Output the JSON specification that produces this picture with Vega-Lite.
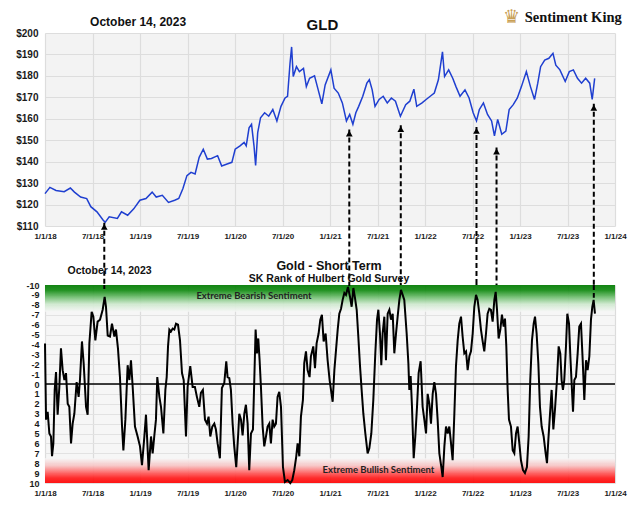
{
  "$schema": "https://vega.github.io/schema/vega-lite/v6.json",
  "background": "white",
  "padding": {"left": 15, "top": 8, "right": 5, "bottom": 5},
  "spacing": 59,
  "bounds": "flush",
  "config": {
    "view": {"stroke": null},
    "axis": {"labelFont": "Liberation Sans", "labelFontWeight": "bold", "labelColor": "#1a1a1a", "ticks": false, "tickSize": 0, "domain": false, "gridColor": "#dedede", "gridWidth": 1.2, "labelFlush": false, "labelOverlap": false, "title": null}
  },
  "datasets": {
    "price": [
      {"year": 2018.000, "price": 125.1}, {"year": 2018.052, "price": 128}, {"year": 2018.116, "price": 126.6}, {"year": 2018.202, "price": 126},
      {"year": 2018.267, "price": 127.7}, {"year": 2018.310, "price": 125.8}, {"year": 2018.375, "price": 123.5}, {"year": 2018.439, "price": 122.8},
      {"year": 2018.482, "price": 119}, {"year": 2018.547, "price": 116.6}, {"year": 2018.611, "price": 112.8}, {"year": 2018.633, "price": 111.7},
      {"year": 2018.676, "price": 114.3}, {"year": 2018.762, "price": 113.5}, {"year": 2018.805, "price": 116.6}, {"year": 2018.870, "price": 115},
      {"year": 2018.934, "price": 118}, {"year": 2018.999, "price": 122}, {"year": 2019.063, "price": 122.8}, {"year": 2019.128, "price": 125.8},
      {"year": 2019.171, "price": 123.5}, {"year": 2019.235, "price": 124.3}, {"year": 2019.300, "price": 121}, {"year": 2019.365, "price": 122},
      {"year": 2019.408, "price": 122.8}, {"year": 2019.451, "price": 127.4}, {"year": 2019.494, "price": 133.5}, {"year": 2019.537, "price": 135},
      {"year": 2019.580, "price": 134.3}, {"year": 2019.623, "price": 142}, {"year": 2019.666, "price": 145.8}, {"year": 2019.709, "price": 141.2},
      {"year": 2019.752, "price": 141.5}, {"year": 2019.817, "price": 142.8}, {"year": 2019.860, "price": 138}, {"year": 2019.924, "price": 139},
      {"year": 2019.967, "price": 139.7}, {"year": 2020.002, "price": 145.8}, {"year": 2020.053, "price": 147.4}, {"year": 2020.096, "price": 149},
      {"year": 2020.118, "price": 147.4}, {"year": 2020.148, "price": 155.8}, {"year": 2020.174, "price": 157.4}, {"year": 2020.200, "price": 147.4},
      {"year": 2020.217, "price": 138.2}, {"year": 2020.239, "price": 153.5}, {"year": 2020.269, "price": 160.5}, {"year": 2020.312, "price": 162.8},
      {"year": 2020.355, "price": 161.2}, {"year": 2020.398, "price": 164.3}, {"year": 2020.441, "price": 159}, {"year": 2020.484, "price": 165.8},
      {"year": 2020.527, "price": 169.7}, {"year": 2020.553, "price": 170.5}, {"year": 2020.579, "price": 185.8}, {"year": 2020.596, "price": 193.5},
      {"year": 2020.613, "price": 179.7}, {"year": 2020.647, "price": 184.3}, {"year": 2020.678, "price": 182}, {"year": 2020.721, "price": 183.5},
      {"year": 2020.751, "price": 175}, {"year": 2020.785, "price": 178.9}, {"year": 2020.837, "price": 180}, {"year": 2020.871, "price": 174.3},
      {"year": 2020.914, "price": 167}, {"year": 2020.949, "price": 175.8}, {"year": 2021.009, "price": 182.8}, {"year": 2021.043, "price": 174.3},
      {"year": 2021.087, "price": 172}, {"year": 2021.130, "price": 167.4}, {"year": 2021.173, "price": 159}, {"year": 2021.207, "price": 162},
      {"year": 2021.241, "price": 157.4}, {"year": 2021.272, "price": 162.8}, {"year": 2021.302, "price": 165.8}, {"year": 2021.345, "price": 170.5},
      {"year": 2021.388, "price": 176.6}, {"year": 2021.414, "price": 178.2}, {"year": 2021.444, "price": 173.5}, {"year": 2021.474, "price": 165.8},
      {"year": 2021.517, "price": 169}, {"year": 2021.560, "price": 170.5}, {"year": 2021.603, "price": 167.4}, {"year": 2021.646, "price": 169.7},
      {"year": 2021.689, "price": 168.2}, {"year": 2021.741, "price": 161.2}, {"year": 2021.797, "price": 166.6}, {"year": 2021.840, "price": 168.2},
      {"year": 2021.883, "price": 173.8}, {"year": 2021.913, "price": 165.8}, {"year": 2021.969, "price": 167.4}, {"year": 2022.012, "price": 169},
      {"year": 2022.055, "price": 170.5}, {"year": 2022.098, "price": 172}, {"year": 2022.141, "price": 178.2}, {"year": 2022.184, "price": 191.2},
      {"year": 2022.206, "price": 179.7}, {"year": 2022.249, "price": 182.8}, {"year": 2022.292, "price": 178.9}, {"year": 2022.326, "price": 175},
      {"year": 2022.369, "price": 170.5}, {"year": 2022.421, "price": 173.5}, {"year": 2022.464, "price": 169.7}, {"year": 2022.507, "price": 162.8},
      {"year": 2022.542, "price": 159}, {"year": 2022.572, "price": 164.3}, {"year": 2022.615, "price": 167.4}, {"year": 2022.658, "price": 162},
      {"year": 2022.701, "price": 159}, {"year": 2022.731, "price": 152}, {"year": 2022.765, "price": 159.7}, {"year": 2022.808, "price": 152.8},
      {"year": 2022.851, "price": 154.3}, {"year": 2022.886, "price": 164.3}, {"year": 2022.929, "price": 166.6}, {"year": 2022.972, "price": 169.7},
      {"year": 2023.015, "price": 175}, {"year": 2023.067, "price": 182}, {"year": 2023.110, "price": 175}, {"year": 2023.153, "price": 169},
      {"year": 2023.187, "price": 176.6}, {"year": 2023.217, "price": 184.3}, {"year": 2023.260, "price": 187.4}, {"year": 2023.304, "price": 188.2},
      {"year": 2023.347, "price": 190.5}, {"year": 2023.377, "price": 185}, {"year": 2023.420, "price": 182.8}, {"year": 2023.476, "price": 177.4},
      {"year": 2023.519, "price": 182}, {"year": 2023.562, "price": 182.8}, {"year": 2023.605, "price": 178.9}, {"year": 2023.648, "price": 176.6},
      {"year": 2023.691, "price": 178.9}, {"year": 2023.734, "price": 176.6}, {"year": 2023.760, "price": 169}, {"year": 2023.770, "price": 172.8},
      {"year": 2023.786, "price": 178.8}
    ],
    "sentiment": [
      {"year": 2018.000, "rank": -4.1}, {"year": 2018.011, "rank": 3.6}, {"year": 2018.028, "rank": 2.8}, {"year": 2018.046, "rank": 5},
      {"year": 2018.063, "rank": 5.3}, {"year": 2018.074, "rank": 7.3}, {"year": 2018.088, "rank": 6}, {"year": 2018.102, "rank": 0.6},
      {"year": 2018.116, "rank": -1.2}, {"year": 2018.133, "rank": 3.1}, {"year": 2018.151, "rank": 0.3}, {"year": 2018.168, "rank": -3.6},
      {"year": 2018.186, "rank": -1.4}, {"year": 2018.204, "rank": -0.4}, {"year": 2018.221, "rank": -1.1}, {"year": 2018.239, "rank": 2},
      {"year": 2018.256, "rank": 2.3}, {"year": 2018.274, "rank": 6}, {"year": 2018.291, "rank": 4}, {"year": 2018.309, "rank": 3},
      {"year": 2018.333, "rank": -0.2}, {"year": 2018.354, "rank": 1.3}, {"year": 2018.368, "rank": -0.4}, {"year": 2018.389, "rank": -4.3},
      {"year": 2018.407, "rank": -2.1}, {"year": 2018.432, "rank": 2.3}, {"year": 2018.449, "rank": 3.1}, {"year": 2018.467, "rank": -4.1},
      {"year": 2018.491, "rank": -7.3}, {"year": 2018.509, "rank": -6.8}, {"year": 2018.530, "rank": -4.4}, {"year": 2018.554, "rank": -6.3},
      {"year": 2018.579, "rank": -6.5}, {"year": 2018.607, "rank": -7.5}, {"year": 2018.628, "rank": -8.8}, {"year": 2018.642, "rank": -7.8},
      {"year": 2018.660, "rank": -4.9}, {"year": 2018.684, "rank": -4.8}, {"year": 2018.705, "rank": -6.1}, {"year": 2018.730, "rank": -4.8},
      {"year": 2018.747, "rank": -5.5}, {"year": 2018.768, "rank": -3.6}, {"year": 2018.789, "rank": -0.7}, {"year": 2018.811, "rank": 4.3},
      {"year": 2018.825, "rank": 6.7}, {"year": 2018.846, "rank": 3.6}, {"year": 2018.870, "rank": -1.9}, {"year": 2018.888, "rank": -0.4},
      {"year": 2018.905, "rank": -2.4}, {"year": 2018.923, "rank": 0.3}, {"year": 2018.947, "rank": 4.3}, {"year": 2018.975, "rank": 5.3},
      {"year": 2019.000, "rank": 6.3}, {"year": 2019.021, "rank": 8.2}, {"year": 2019.046, "rank": 5.3}, {"year": 2019.063, "rank": 3.1},
      {"year": 2019.091, "rank": 8.7}, {"year": 2019.116, "rank": 5.3}, {"year": 2019.133, "rank": 7}, {"year": 2019.151, "rank": 5.2},
      {"year": 2019.168, "rank": 3.6}, {"year": 2019.182, "rank": -0.7}, {"year": 2019.204, "rank": 1.3}, {"year": 2019.221, "rank": 2.3},
      {"year": 2019.246, "rank": 5}, {"year": 2019.267, "rank": 0.6}, {"year": 2019.281, "rank": -0.7}, {"year": 2019.295, "rank": -3.8},
      {"year": 2019.309, "rank": -5.5}, {"year": 2019.326, "rank": -5.3}, {"year": 2019.344, "rank": -5.6}, {"year": 2019.361, "rank": -5.5},
      {"year": 2019.379, "rank": -6.1}, {"year": 2019.400, "rank": -6}, {"year": 2019.421, "rank": -4.4}, {"year": 2019.442, "rank": -1.1},
      {"year": 2019.460, "rank": -0.4}, {"year": 2019.484, "rank": 5.3}, {"year": 2019.501, "rank": 0.3}, {"year": 2019.529, "rank": -1.8},
      {"year": 2019.554, "rank": 0.3}, {"year": 2019.578, "rank": 0.3}, {"year": 2019.599, "rank": 1.3}, {"year": 2019.624, "rank": 2.3},
      {"year": 2019.641, "rank": 0.9}, {"year": 2019.662, "rank": 0.6}, {"year": 2019.684, "rank": 3.6}, {"year": 2019.705, "rank": 4},
      {"year": 2019.722, "rank": 3.3}, {"year": 2019.740, "rank": 5.3}, {"year": 2019.761, "rank": 4.3}, {"year": 2019.782, "rank": 4},
      {"year": 2019.799, "rank": 4.6}, {"year": 2019.817, "rank": 6}, {"year": 2019.841, "rank": 7.5}, {"year": 2019.862, "rank": 0.4},
      {"year": 2019.887, "rank": -0.1}, {"year": 2019.908, "rank": -2.3}, {"year": 2019.922, "rank": -0.7}, {"year": 2019.940, "rank": -0.6},
      {"year": 2019.957, "rank": 0.6}, {"year": 2019.975, "rank": 4}, {"year": 2019.992, "rank": 6.3}, {"year": 2020.013, "rank": 8.4},
      {"year": 2020.034, "rank": 5}, {"year": 2020.045, "rank": 3}, {"year": 2020.063, "rank": 3.6}, {"year": 2020.080, "rank": 5.2},
      {"year": 2020.098, "rank": 3}, {"year": 2020.115, "rank": 2.1}, {"year": 2020.133, "rank": 4}, {"year": 2020.150, "rank": 8.7},
      {"year": 2020.168, "rank": 5}, {"year": 2020.189, "rank": 4.6}, {"year": 2020.203, "rank": -0.4}, {"year": 2020.217, "rank": -5.5},
      {"year": 2020.231, "rank": -3.1}, {"year": 2020.245, "rank": -4.6}, {"year": 2020.259, "rank": -2.4}, {"year": 2020.273, "rank": 0.3},
      {"year": 2020.291, "rank": 4.3}, {"year": 2020.308, "rank": 6.3}, {"year": 2020.326, "rank": 5.3}, {"year": 2020.343, "rank": 4.3},
      {"year": 2020.361, "rank": 4}, {"year": 2020.378, "rank": 6}, {"year": 2020.396, "rank": 3.6}, {"year": 2020.413, "rank": 4.3},
      {"year": 2020.431, "rank": 4}, {"year": 2020.448, "rank": 1.3}, {"year": 2020.466, "rank": 0.8}, {"year": 2020.484, "rank": 2.3},
      {"year": 2020.505, "rank": 8.4}, {"year": 2020.526, "rank": 9.9}, {"year": 2020.554, "rank": 9.7}, {"year": 2020.582, "rank": 10},
      {"year": 2020.603, "rank": 9.7}, {"year": 2020.624, "rank": 8.7}, {"year": 2020.645, "rank": 7.3}, {"year": 2020.659, "rank": 6},
      {"year": 2020.677, "rank": 7.3}, {"year": 2020.694, "rank": 3.3}, {"year": 2020.715, "rank": 1.6}, {"year": 2020.729, "rank": -2.1},
      {"year": 2020.747, "rank": -3.3}, {"year": 2020.764, "rank": -1.4}, {"year": 2020.785, "rank": -0.7}, {"year": 2020.799, "rank": -2.8},
      {"year": 2020.824, "rank": -3.8}, {"year": 2020.842, "rank": -1.6}, {"year": 2020.859, "rank": -4.1}, {"year": 2020.880, "rank": -5.1},
      {"year": 2020.898, "rank": -6.5}, {"year": 2020.915, "rank": -7}, {"year": 2020.933, "rank": -4.3}, {"year": 2020.954, "rank": -5.1},
      {"year": 2020.975, "rank": -2.4}, {"year": 2020.996, "rank": -0.4}, {"year": 2021.028, "rank": 1.8}, {"year": 2021.046, "rank": -1.4},
      {"year": 2021.063, "rank": -3.4}, {"year": 2021.081, "rank": -5.5}, {"year": 2021.098, "rank": -7.1}, {"year": 2021.116, "rank": -7.6},
      {"year": 2021.133, "rank": -8.5}, {"year": 2021.151, "rank": -9.2}, {"year": 2021.168, "rank": -9}, {"year": 2021.189, "rank": -9.8},
      {"year": 2021.211, "rank": -8.8}, {"year": 2021.228, "rank": -7.8}, {"year": 2021.246, "rank": -9.7}, {"year": 2021.263, "rank": -8.7},
      {"year": 2021.281, "rank": -7.5}, {"year": 2021.298, "rank": -4.8}, {"year": 2021.316, "rank": -1.8}, {"year": 2021.333, "rank": 0.6},
      {"year": 2021.351, "rank": 3}, {"year": 2021.372, "rank": 5}, {"year": 2021.396, "rank": 7}, {"year": 2021.414, "rank": 6.5},
      {"year": 2021.435, "rank": 5}, {"year": 2021.456, "rank": 1.6}, {"year": 2021.477, "rank": -3.1}, {"year": 2021.495, "rank": -6.5},
      {"year": 2021.509, "rank": -7.5}, {"year": 2021.526, "rank": -5.1}, {"year": 2021.540, "rank": -1.9}, {"year": 2021.554, "rank": -5.1},
      {"year": 2021.572, "rank": -6.8}, {"year": 2021.589, "rank": -2.4}, {"year": 2021.607, "rank": -7.1}, {"year": 2021.625, "rank": -7.5},
      {"year": 2021.642, "rank": -6.5}, {"year": 2021.660, "rank": -7.1}, {"year": 2021.677, "rank": -3.1}, {"year": 2021.695, "rank": -5.1},
      {"year": 2021.712, "rank": -6.8}, {"year": 2021.730, "rank": -8.5}, {"year": 2021.747, "rank": -9.5}, {"year": 2021.765, "rank": -9},
      {"year": 2021.782, "rank": -8.5}, {"year": 2021.807, "rank": -5.1}, {"year": 2021.825, "rank": -2.1}, {"year": 2021.835, "rank": 0.6},
      {"year": 2021.849, "rank": -0.8}, {"year": 2021.863, "rank": 2.3}, {"year": 2021.881, "rank": 7.5}, {"year": 2021.898, "rank": 5.3},
      {"year": 2021.916, "rank": 2.3}, {"year": 2021.933, "rank": -1.1}, {"year": 2021.954, "rank": -2.3}, {"year": 2021.975, "rank": 2.3},
      {"year": 2021.993, "rank": 3.6}, {"year": 2022.011, "rank": 5}, {"year": 2022.028, "rank": 1}, {"year": 2022.046, "rank": 2},
      {"year": 2022.063, "rank": 4}, {"year": 2022.081, "rank": 1}, {"year": 2022.098, "rank": -0.2}, {"year": 2022.116, "rank": 1},
      {"year": 2022.133, "rank": 3.6}, {"year": 2022.151, "rank": 7}, {"year": 2022.172, "rank": 8.4}, {"year": 2022.186, "rank": 9.4},
      {"year": 2022.204, "rank": 6.3}, {"year": 2022.221, "rank": 4.3}, {"year": 2022.239, "rank": 5}, {"year": 2022.256, "rank": 4.3},
      {"year": 2022.274, "rank": 6}, {"year": 2022.291, "rank": 7.7}, {"year": 2022.309, "rank": 3}, {"year": 2022.326, "rank": -1.8},
      {"year": 2022.344, "rank": -4.4}, {"year": 2022.361, "rank": -6.1}, {"year": 2022.379, "rank": -6.8}, {"year": 2022.396, "rank": -4.8},
      {"year": 2022.414, "rank": -3.1}, {"year": 2022.432, "rank": -3.3}, {"year": 2022.449, "rank": -1.4}, {"year": 2022.467, "rank": -2.8},
      {"year": 2022.484, "rank": -3.3}, {"year": 2022.502, "rank": -5.1}, {"year": 2022.519, "rank": -7.8}, {"year": 2022.537, "rank": -9},
      {"year": 2022.554, "rank": -8.5}, {"year": 2022.572, "rank": -7.1}, {"year": 2022.589, "rank": -5.5}, {"year": 2022.607, "rank": -4.3},
      {"year": 2022.624, "rank": -3.3}, {"year": 2022.642, "rank": -5.1}, {"year": 2022.659, "rank": -7.1}, {"year": 2022.677, "rank": -7.6},
      {"year": 2022.694, "rank": -7.5}, {"year": 2022.712, "rank": -6.3}, {"year": 2022.730, "rank": -8.5}, {"year": 2022.744, "rank": -9.3},
      {"year": 2022.758, "rank": -7.5}, {"year": 2022.775, "rank": -4.6}, {"year": 2022.793, "rank": -5.5}, {"year": 2022.810, "rank": -7},
      {"year": 2022.828, "rank": -5.8}, {"year": 2022.842, "rank": -6.6}, {"year": 2022.856, "rank": -3.8}, {"year": 2022.870, "rank": 0.6},
      {"year": 2022.884, "rank": 3.6}, {"year": 2022.905, "rank": 4.3}, {"year": 2022.923, "rank": 6.7}, {"year": 2022.940, "rank": 7},
      {"year": 2022.958, "rank": 5}, {"year": 2022.975, "rank": 4.3}, {"year": 2022.993, "rank": 6}, {"year": 2023.010, "rank": 7.7},
      {"year": 2023.031, "rank": 8.7}, {"year": 2023.052, "rank": 9}, {"year": 2023.073, "rank": 8.4}, {"year": 2023.091, "rank": 5.3},
      {"year": 2023.108, "rank": -0.4}, {"year": 2023.126, "rank": -4.4}, {"year": 2023.144, "rank": -6.1}, {"year": 2023.158, "rank": -6.8},
      {"year": 2023.175, "rank": -5.1}, {"year": 2023.193, "rank": -2.1}, {"year": 2023.210, "rank": 2.3}, {"year": 2023.228, "rank": 4.3},
      {"year": 2023.249, "rank": 5.3}, {"year": 2023.270, "rank": 7}, {"year": 2023.284, "rank": 8}, {"year": 2023.298, "rank": 5.7},
      {"year": 2023.316, "rank": 3}, {"year": 2023.333, "rank": 0.6}, {"year": 2023.351, "rank": 4.6}, {"year": 2023.368, "rank": 2.6},
      {"year": 2023.389, "rank": -0.4}, {"year": 2023.407, "rank": -3.8}, {"year": 2023.424, "rank": -3.1}, {"year": 2023.438, "rank": -0.4},
      {"year": 2023.452, "rank": 0.6}, {"year": 2023.466, "rank": -0.4}, {"year": 2023.484, "rank": -3.8}, {"year": 2023.498, "rank": -7.1},
      {"year": 2023.516, "rank": -6.1}, {"year": 2023.530, "rank": -2.8}, {"year": 2023.547, "rank": 0.6}, {"year": 2023.558, "rank": 2.8},
      {"year": 2023.572, "rank": -0.4}, {"year": 2023.589, "rank": -0.7}, {"year": 2023.607, "rank": -3.1}, {"year": 2023.624, "rank": -5.8},
      {"year": 2023.642, "rank": -6.1}, {"year": 2023.660, "rank": -2.4}, {"year": 2023.677, "rank": 1.6}, {"year": 2023.695, "rank": -2.4},
      {"year": 2023.712, "rank": -1.4}, {"year": 2023.730, "rank": -2.8}, {"year": 2023.747, "rank": -6.5}, {"year": 2023.761, "rank": -7.8},
      {"year": 2023.775, "rank": -8.5}, {"year": 2023.789, "rank": -7.1}
    ],
    "arrows": [
      {"year": 2018.624, "tip": 111.5, "end": -9.6},
      {"year": 2021.203, "tip": 155.0, "end": -9.9},
      {"year": 2021.745, "tip": 157.0, "end": -10.2},
      {"year": 2022.542, "tip": 156.2, "end": -10.1},
      {"year": 2022.753, "tip": 146.6, "end": -10.0},
      {"year": 2023.777, "tip": 167.0, "end": -8.7}
    ]
  },
  "vconcat": [
    {
      "width": 570,
      "height": 193,
      "view": {"fill": "#f3f3f3", "stroke": null},
      "layer": [
        {
          "data": {"name": "price"},
          "mark": {"type": "line", "color": "#1f3fd0", "strokeWidth": 1.5},
          "encoding": {
            "x": {"field": "year", "type": "quantitative", "scale": {"domain": [2018, 2024], "nice": false, "zero": false},
              "axis": {"values": [2018, 2018.5, 2019, 2019.5, 2020, 2020.5, 2021, 2021.5, 2022, 2022.5, 2023, 2023.5, 2024], "tickCount": 40,
                "labelExpr": "(datum.value % 1 == 0 ? '1/1/' : '7/1/') + format(floor(datum.value) % 100, '02d')",
                "labelFontSize": 8, "labelPadding": 6, "labelOverlap": false, "grid": true, "gridColor": "#dddddd"}},
            "y": {"field": "price", "type": "quantitative", "scale": {"domain": [110, 200], "nice": false, "zero": false},
              "axis": {"values": [110, 120, 130, 140, 150, 160, 170, 180, 190, 200], "tickCount": 40, "labelExpr": "'$' + datum.value",
                "labelFontSize": 10, "labelPadding": 7, "labelOverlap": false, "grid": true, "gridColor": "#dddddd"}}
          }
        },
        {
          "data": {"name": "arrows"},
          "mark": {"type": "rule", "strokeDash": [5, 3], "strokeWidth": 2, "color": "#000000"},
          "encoding": {
            "x": {"field": "year", "type": "quantitative"},
            "y": {"field": "tip", "type": "quantitative"},
            "y2": {"datum": 82.5}
          }
        },
        {
          "data": {"name": "arrows"},
          "mark": {"type": "point", "shape": "triangle-up", "filled": true, "size": 45, "color": "#000000", "opacity": 1, "yOffset": 4},
          "encoding": {
            "x": {"field": "year", "type": "quantitative"},
            "y": {"field": "tip", "type": "quantitative"}
          }
        },
        {
          "data": {"values": [{}]},
          "mark": {"type": "text", "text": "GLD", "font": "Liberation Sans", "fontSize": 15, "fontWeight": "bold", "color": "#111111"},
          "encoding": {"x": {"datum": 2020.92}, "y": {"datum": 203.6}}
        },
        {
          "data": {"values": [{}]},
          "mark": {"type": "text", "text": "October 14, 2023", "font": "Liberation Sans", "fontSize": 12, "fontWeight": "bold", "color": "#111111"},
          "encoding": {"x": {"datum": 2018.98}, "y": {"datum": 205.1}}
        },
        {
          "data": {"values": [{}]},
          "mark": {"type": "text", "text": "♛", "font": "DejaVu Sans", "fontSize": 19, "color": "#c9a055"},
          "encoding": {"x": {"datum": 2022.91}, "y": {"datum": 207.3}}
        },
        {
          "data": {"values": [{}]},
          "mark": {"type": "text", "text": "Sentiment King", "font": "Liberation Serif", "fontSize": 14.5, "fontWeight": "bold", "color": "#111111"},
          "encoding": {"x": {"datum": 2023.56}, "y": {"datum": 207.0}}
        }
      ]
    },
    {
      "width": 570,
      "height": 198,
      "view": {"fill": "#f6f6f6", "stroke": null},
      "layer": [
        {
          "data": {"values": [{}]},
          "mark": {"type": "rect", "opacity": 0.92, "color": {"gradient": "linear", "x1": 0, "y1": 0, "x2": 0, "y2": 1, "stops": [
            {"offset": 0, "color": "#007a00"}, {"offset": 0.2, "color": "#118a11"}, {"offset": 0.45, "color": "#6dbd6d"}, {"offset": 0.72, "color": "#cfe9cf"}, {"offset": 1, "color": "#f6f6f6"}]}},
          "encoding": {"x": {"datum": 2018}, "x2": {"datum": 2024}, "y": {"datum": -10}, "y2": {"datum": -7.3}}
        },
        {
          "data": {"values": [{}]},
          "mark": {"type": "rect", "opacity": 0.92, "color": {"gradient": "linear", "x1": 0, "y1": 0, "x2": 0, "y2": 1, "stops": [
            {"offset": 0, "color": "#f6f6f6"}, {"offset": 0.3, "color": "#f7c4c4"}, {"offset": 0.6, "color": "#ff5a5a"}, {"offset": 0.8, "color": "#ff1a1a"}, {"offset": 1, "color": "#ff0000"}]}},
          "encoding": {"x": {"datum": 2018}, "x2": {"datum": 2024}, "y": {"datum": 7.5}, "y2": {"datum": 10}}
        },
        {
          "data": {"values": [{}]},
          "mark": {"type": "rule", "color": "#000000", "strokeWidth": 1.3},
          "encoding": {"y": {"datum": 0}}
        },
        {
          "data": {"name": "sentiment"},
          "mark": {"type": "line", "color": "#000000", "strokeWidth": 2},
          "encoding": {
            "x": {"field": "year", "type": "quantitative", "scale": {"domain": [2018, 2024], "nice": false, "zero": false},
              "axis": {"values": [2018, 2018.5, 2019, 2019.5, 2020, 2020.5, 2021, 2021.5, 2022, 2022.5, 2023, 2023.5, 2024], "tickCount": 40,
                "labelExpr": "(datum.value % 1 == 0 ? '1/1/' : '7/1/') + format(floor(datum.value) % 100, '02d')",
                "labelFontSize": 8, "labelPadding": 6, "labelOverlap": false, "grid": true, "gridColor": "#dcdcdc"}},
            "y": {"field": "rank", "type": "quantitative", "scale": {"domain": [-10, 10], "reverse": true, "nice": false, "zero": false},
              "axis": {"values": [-10, -9, -8, -7, -6, -5, -4, -3, -2, -1, 0, 1, 2, 3, 4, 5, 6, 7, 8, 9, 10], "tickCount": 40,
                "labelExpr": "(datum.value < 0 ? '-' : '') + abs(datum.value)",
                "labelFontSize": 9, "labelPadding": 6, "labelOverlap": false, "grid": true, "gridColor": "#e2e2e2"}}
          }
        },
        {
          "data": {"name": "arrows"},
          "mark": {"type": "rule", "strokeDash": [5, 3], "strokeWidth": 2, "color": "#000000"},
          "encoding": {
            "x": {"field": "year", "type": "quantitative"},
            "y": {"datum": -10},
            "y2": {"field": "end", "type": "quantitative"}
          }
        },
        {
          "data": {"values": [{}]},
          "mark": {"type": "text", "text": "Gold - Short Term", "font": "Liberation Sans", "fontSize": 12.5, "fontWeight": "bold", "color": "#111111"},
          "encoding": {"x": {"datum": 2020.99}, "y": {"datum": -11.95}}
        },
        {
          "data": {"values": [{}]},
          "mark": {"type": "text", "text": "SK Rank of Hulbert Gold Survey", "font": "Liberation Sans", "fontSize": 10.5, "fontWeight": "bold", "color": "#111111"},
          "encoding": {"x": {"datum": 2020.99}, "y": {"datum": -10.65}}
        },
        {
          "data": {"values": [{}]},
          "mark": {"type": "text", "text": "Extreme Bearish Sentiment", "font": "Lato", "fontSize": 9.5, "fontWeight": "bold", "color": "#222222"},
          "encoding": {"x": {"datum": 2020.2}, "y": {"datum": -8.9}}
        },
        {
          "data": {"values": [{}]},
          "mark": {"type": "text", "text": "Extreme Bullish Sentiment", "font": "Lato", "fontSize": 9.5, "fontWeight": "bold", "color": "#222222"},
          "encoding": {"x": {"datum": 2021.51}, "y": {"datum": 8.7}}
        },
        {
          "data": {"values": [{}]},
          "mark": {"type": "text", "text": "October 14, 2023", "font": "Liberation Sans", "fontSize": 10.5, "fontWeight": "bold", "color": "#111111"},
          "encoding": {"x": {"datum": 2018.68}, "y": {"datum": -11.4}}
        }
      ]
    }
  ]
}
